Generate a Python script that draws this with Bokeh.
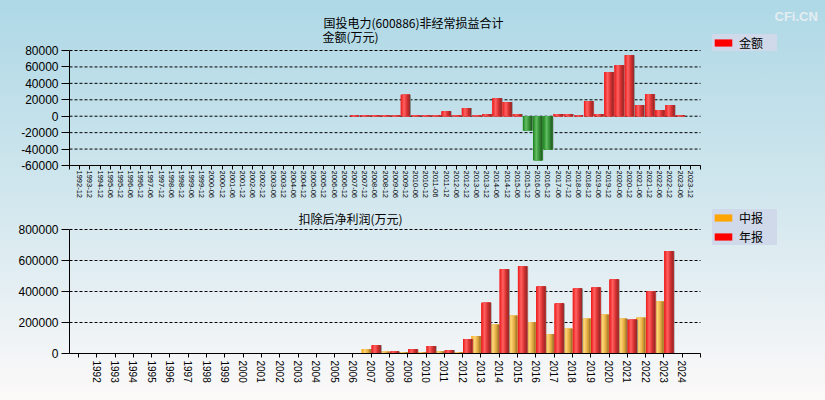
import numpy as np
from bokeh.plotting import figure
from bokeh.models import (ColumnDataSource, Range1d, FixedTicker, NumeralTickFormatter,
                          Legend, LegendItem, Label)
from bokeh.transform import dodge
from bokeh.layouts import column
from bokeh.embed import file_html
from bokeh.resources import INLINE

# ---------------- data ----------------
periods = ["1992-12", "1993-12", "1994-12", "1995-06", "1995-12", "1996-06", "1996-12",
           "1997-06", "1997-12", "1998-06", "1998-12", "1999-06", "1999-12", "2000-06",
           "2000-12", "2001-06", "2001-12", "2002-06", "2002-12", "2003-06", "2003-12",
           "2004-06", "2004-12", "2005-06", "2005-12", "2006-06", "2006-12", "2007-06",
           "2007-12", "2008-06", "2008-12", "2009-06", "2009-12", "2010-06", "2010-12",
           "2011-06", "2011-12", "2012-06", "2012-12", "2013-06", "2013-12", "2014-06",
           "2014-12", "2015-06", "2015-12", "2016-06", "2016-12", "2017-06", "2017-12",
           "2018-06", "2018-12", "2019-06", "2019-12", "2020-06", "2020-12", "2021-06",
           "2021-12", "2022-06", "2022-12", "2023-06", "2023-12"]
nonrecurring = [None] * 27 + [
    1000, 1000, 1000, 1000, 1000, 26000, 1000, 1000, 1000, 6000,
    1000, 10000, 1000, 2800, 22200, 17400, 2800, -17400, -53700, -40400,
    2800, 2800, 1000, 18600, 2800, 53700, 62200, 74300, 13700, 27000,
    7700, 13700, 1000, None]
top_yticks = [-60000, -40000, -20000, 0, 20000, 40000, 60000, 80000]

years = [1992, 1993, 1994, 1995, 1996, 1997, 1998, 1999, 2000, 2001, 2002, 2003, 2004,
         2005, 2006, 2007, 2008, 2009, 2010, 2011, 2012, 2013, 2014, 2015, 2016, 2017,
         2018, 2019, 2020, 2021, 2022, 2023, 2024]
interim = [None] * 15 + [28000, 12000, 8700, 8700, 15000, 8700, 113000, 185000, 243000,
                         204000, 126000, 159000, 224000, 250000, 224000, 230000, 335000, None]
annual = [None] * 15 + [54000, 13000, 28000, 48000, 22000, 93000, 328000, 543000, 563000,
                        432000, 322000, 420000, 426000, 478000, 217000, 400000, 661000, None]
bottom_yticks = [0, 200000, 400000, 600000, 800000]

FONT = "Liberation Sans"
CJK = "Noto Sans CJK SC"
W = 825
FRAME_LEFT = 69   # both frames share this left edge (column aligns them)

RED = [(0.0, (235, 25, 25)), (0.35, (255, 98, 98)), (0.7, (215, 45, 45)), (1.0, (140, 45, 45))]
GREEN = [(0.0, (25, 130, 25)), (0.35, (100, 190, 100)), (0.7, (50, 140, 50)), (1.0, (35, 85, 35))]
ORANGE = [(0.0, (245, 165, 20)), (0.35, (255, 212, 120)), (0.7, (225, 170, 60)), (1.0, (150, 110, 45))]


def lerp(stops, t):
    for (t0, c0), (t1, c1) in zip(stops[:-1], stops[1:]):
        if t0 <= t <= t1:
            f = (t - t0) / (t1 - t0)
            c = [round(a + (b - a) * f) for a, b in zip(c0, c1)]
            return "#%02x%02x%02x" % tuple(c)
    return "#%02x%02x%02x" % stops[-1][1]


def gradient_bars(p, src, xf, topf, width, stops, base_color, n=10, shadow_dx=0.1):
    p.vbar(x=dodge(xf, shadow_dx), top=topf, bottom=0, width=width, source=src,
           fill_color="#808080", fill_alpha=0.85, line_color=None)
    base = p.vbar(x=xf, top=topf, bottom=0, width=width, source=src,
                  fill_color=base_color, line_color=None)
    step = width / n
    for k in range(n):
        wk = width - k * step
        off = -width / 2 + k * step + wk / 2
        p.vbar(x=dodge(xf, off), top=topf, bottom=0, width=wk, source=src,
               fill_color=lerp(stops, (k + 0.5) / n), line_color=None)
    return base


def style_axes(p, yticks, xbounds):
    p.border_fill_alpha = 0
    p.background_fill_alpha = 0
    p.outline_line_color = None
    p.xgrid.visible = False
    p.ygrid.visible = False
    # dashed horizontal grid lines limited to the axis extent
    p.segment(x0=[xbounds[0]] * len(yticks), x1=[xbounds[1]] * len(yticks),
              y0=yticks, y1=yticks, line_color="black", line_dash="3 2",
              line_width=1, level="underlay")
    ya = p.yaxis[0]
    ya.ticker = FixedTicker(ticks=yticks)
    ya.bounds = (yticks[0], yticks[-1])
    ya.formatter = NumeralTickFormatter(format="0")
    ya.major_tick_out = 8
    ya.major_tick_in = 0
    ya.minor_tick_out = 0
    ya.minor_tick_in = 0
    ya.major_label_standoff = 3
    ya.major_label_text_font = FONT
    ya.major_label_text_font_size = "12px"
    ya.major_label_text_color = "black"
    ya.axis_line_color = "black"
    ya.major_tick_line_color = "black"
    xa = p.xaxis[0]
    xa.bounds = xbounds
    xa.major_tick_out = 4
    xa.major_tick_in = 0
    xa.minor_tick_out = 0
    xa.minor_tick_in = 0
    xa.major_label_orientation = "vertical"
    xa.major_label_text_font = FONT
    xa.major_label_text_color = "black"
    xa.axis_line_color = "black"
    xa.major_tick_line_color = "black"


def make_legend(items, location, padding):
    return Legend(items=items, location=location, padding=padding, spacing=2, margin=0,
                  glyph_width=22, glyph_height=9, label_width=38, label_height=14,
                  label_standoff=5, background_fill_color="#d0d9ea", background_fill_alpha=1,
                  border_line_color=None, label_text_font=CJK, label_text_font_size="12px",
                  label_text_color="black")


# ---------------- top chart ----------------
T_RIGHT_AXIS, T_TOP_TICK, T_BOTTOM, T_H = 700, 50, 165, 205
n = len(periods)
vals = np.array(nonrecurring, dtype=float)
idx = np.arange(n)
src_top = ColumnDataSource(dict(
    x=idx,
    pos=np.where(vals > 0, vals, np.nan),
    neg=np.where(vals < 0, vals, np.nan),
))
x_lo, x_hi = -1, n
ux = (x_hi - x_lo) / (T_RIGHT_AXIS - FRAME_LEFT)
uy = (top_yticks[-1] - top_yticks[0]) / (T_BOTTOM - T_TOP_TICK)
p1 = figure(width=W, height=T_H,
            x_range=Range1d(x_lo, x_lo + (W - FRAME_LEFT) * ux),
            y_range=Range1d(top_yticks[0], top_yticks[0] + T_BOTTOM * uy),
            output_backend="svg", toolbar_location=None,
            min_border_left=FRAME_LEFT, min_border_right=0, min_border_top=0,
            min_border_bottom=T_H - T_BOTTOM)
style_axes(p1, top_yticks, (x_lo, x_hi))
red_base = gradient_bars(p1, src_top, "x", "pos", 0.9, RED, "#ff0000")
gradient_bars(p1, src_top, "x", "neg", 0.9, GREEN, "#008000")

xa1 = p1.xaxis[0]
xa1.ticker = FixedTicker(ticks=list(range(x_lo, x_hi + 1)))
ov1 = {int(i): periods[i] for i in idx}
ov1[x_lo] = ""
ov1[x_hi] = ""
xa1.major_label_overrides = ov1
xa1.major_label_text_font_size = "7.5px"
xa1.major_label_standoff = 1

p1.add_layout(make_legend([LegendItem(label="金额", renderers=[red_base])],
                          (712 - FRAME_LEFT, T_BOTTOM - 51), 5))
p1.add_layout(Label(x=323 - FRAME_LEFT, y=T_BOTTOM - 22, x_units="screen", y_units="screen",
                    text="国投电力(600886)非经常损益合计", text_font=CJK,
                    text_font_size="12px", text_color="black", text_baseline="alphabetic"))
p1.add_layout(Label(x=322 - FRAME_LEFT, y=T_BOTTOM - 36, x_units="screen", y_units="screen",
                    text="金额(万元)", text_font=CJK,
                    text_font_size="12px", text_color="black", text_baseline="alphabetic"))
p1.add_layout(Label(x=774 - FRAME_LEFT, y=T_BOTTOM - 16, x_units="screen", y_units="screen",
                    text="CFi.CN", text_font=FONT, text_font_style="bold",
                    text_font_size="13px", text_color="#e4edf2", text_baseline="alphabetic"))

# ---------------- bottom chart ----------------
B_TOP, B_FIRST_TICK, B_RIGHT_AXIS, B_TOP_TICK, B_BOTTOM, B_H = 205, 78, 700, 229, 353, 195
src_i = ColumnDataSource(dict(x=np.array(years, dtype=float) - 0.27,
                              top=np.array(interim, dtype=float)))
src_a = ColumnDataSource(dict(x=np.array(years, dtype=float) + 0.27,
                              top=np.array(annual, dtype=float)))
bx_lo, bx_hi = years[0] - 1, years[-1] + 1
bux = (bx_hi - bx_lo) / (B_RIGHT_AXIS - B_FIRST_TICK)
buy = (bottom_yticks[-1] - bottom_yticks[0]) / (B_BOTTOM - B_TOP_TICK)
bx_start = bx_lo - (B_FIRST_TICK - FRAME_LEFT) * bux
p2 = figure(width=W, height=B_H,
            x_range=Range1d(bx_start, bx_start + (W - FRAME_LEFT) * bux),
            y_range=Range1d(bottom_yticks[0], bottom_yticks[0] + (B_BOTTOM - B_TOP) * buy),
            output_backend="svg", toolbar_location=None,
            min_border_left=FRAME_LEFT, min_border_right=0, min_border_top=0,
            min_border_bottom=B_TOP + B_H - B_BOTTOM)
style_axes(p2, bottom_yticks, (bx_start, bx_hi))
orange_base = gradient_bars(p2, src_i, "x", "top", 0.5, ORANGE, "#ffa500", shadow_dx=0.06)
red_base2 = gradient_bars(p2, src_a, "x", "top", 0.5, RED, "#ff0000", shadow_dx=0.06)

xa2 = p2.xaxis[0]
xa2.ticker = FixedTicker(ticks=list(range(bx_lo, bx_hi + 1)))
ov2 = {y: str(y) for y in years}
ov2[bx_lo] = ""
ov2[bx_hi] = ""
xa2.major_label_overrides = ov2
xa2.major_label_text_font_size = "10px"
xa2.major_label_standoff = 3

p2.add_layout(make_legend([LegendItem(label="中报", renderers=[orange_base]),
                           LegendItem(label="年报", renderers=[red_base2])],
                          (712 - FRAME_LEFT, B_BOTTOM - 245), 4))
p2.add_layout(Label(x=298 - FRAME_LEFT, y=B_BOTTOM - 217.5, x_units="screen", y_units="screen",
                    text="扣除后净利润(万元)", text_font=CJK,
                    text_font_size="12px", text_color="black", text_baseline="alphabetic"))

layout = column(p1, p2, styles={
    "background": "linear-gradient(to bottom, #aed8e6 0%, #d2e7ee 50%, #fcf9f9 100%)"})

open("out.html", "w").write(file_html(layout, INLINE))
